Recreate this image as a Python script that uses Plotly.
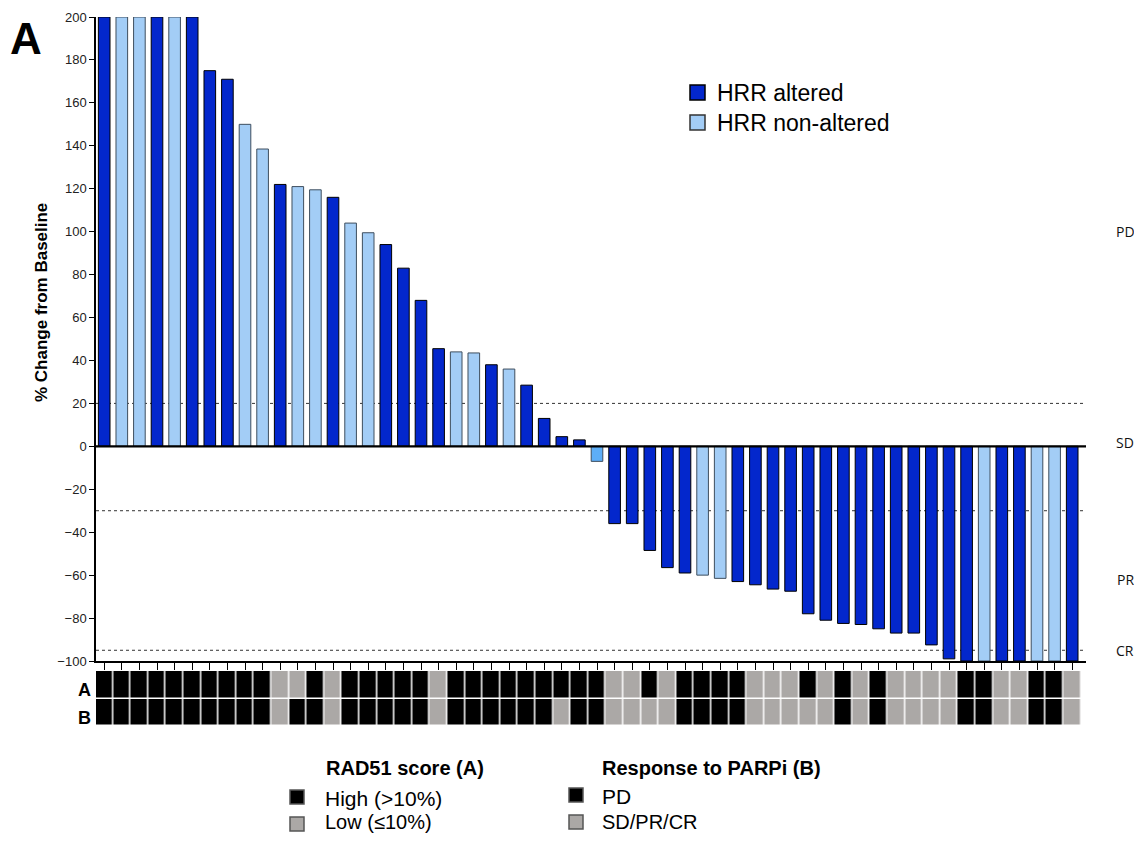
import plotly.graph_objects as go

# ---------------- data ----------------
pct_change = [200, 200, 200, 200, 200, 200, 175, 171, 150, 138.5,
              122, 121, 119.5, 116, 104, 99.5, 94, 83, 68, 45.5,
              44, 43.5, 38, 36, 28.5, 13, 4.5, 3, -7, -36,
              -36, -48.5, -56.5, -59, -60, -61.5, -63, -64.5, -66.5, -67.5,
              -78, -81, -82.5, -83, -85, -87, -87, -92.5, -99, -100,
              -100, -100, -100, -100, -100, -100]

hrr_status = ["altered", "non-altered", "non-altered", "altered", "non-altered",
              "altered", "altered", "altered", "non-altered", "non-altered",
              "altered", "non-altered", "non-altered", "altered", "non-altered",
              "non-altered", "altered", "altered", "altered", "altered",
              "non-altered", "non-altered", "altered", "non-altered", "altered",
              "altered", "altered", "altered", "non-altered", "altered",
              "altered", "altered", "altered", "altered", "non-altered",
              "non-altered", "altered", "altered", "altered", "altered",
              "altered", "altered", "altered", "altered", "altered",
              "altered", "altered", "altered", "altered", "altered",
              "non-altered", "altered", "altered", "non-altered", "non-altered",
              "altered"]

# 1 = High (>10%), 0 = Low (<=10%)
rad51_high = [1, 1, 1, 1, 1, 1, 1, 1, 1, 1,
              0, 0, 1, 0, 1, 1, 1, 1, 1, 0,
              1, 1, 1, 1, 1, 1, 1, 1, 1, 0,
              0, 1, 0, 1, 1, 1, 1, 0, 0, 0,
              1, 0, 1, 0, 1, 0, 0, 0, 0, 1,
              1, 0, 0, 1, 1, 0]
# 1 = PD, 0 = SD/PR/CR
parpi_pd = [1, 1, 1, 1, 1, 1, 1, 1, 1, 1,
            0, 1, 1, 0, 1, 1, 1, 1, 1, 0,
            1, 1, 1, 1, 1, 1, 0, 1, 1, 0,
            0, 0, 0, 1, 1, 1, 1, 0, 0, 0,
            0, 0, 1, 0, 1, 0, 0, 0, 0, 1,
            1, 0, 0, 1, 1, 0]

y_ticks = list(range(-100, 201, 20))
ref_lines = [20, -30, -95]
zone_labels = ["PD", "SD", "PR", "CR"]
zone_label_y = [100, 2, -62, -95]

# ---------------- styling ----------------
OFF = 8                      # default page margin around the plot div
W, H = 1142 - 2 * OFF, 843 - 2 * OFF
DARK = "#0327CC"
LIGHT = "#A3CDF6"
ODD_LIGHT = "#5DAEF7"
BLACK = "#000000"
GRAY = "#ABA8A6"
FONT = "Liberation Sans, Arial, sans-serif"


def px_x(p):
    return (p - OFF) / W


def px_y(p):
    return 1 - (p - OFF) / H


x_idx = list(range(len(pct_change)))

fig = go.Figure()

alt_x = [i for i in x_idx if hrr_status[i] == "altered"]
non_x = [i for i in x_idx if hrr_status[i] == "non-altered"]

fig.add_trace(go.Bar(
    x=alt_x, y=[pct_change[i] for i in alt_x], width=0.66,
    marker=dict(color=DARK, line=dict(color="#000000", width=1)),
    name="HRR altered", showlegend=False, xaxis="x", yaxis="y"))

non_colors = [ODD_LIGHT if (-20 < pct_change[i] < 0) else LIGHT for i in non_x]
fig.add_trace(go.Bar(
    x=non_x, y=[pct_change[i] for i in non_x], width=0.66,
    marker=dict(color=non_colors, line=dict(color="#3E4E5E", width=1)),
    name="HRR non-altered", showlegend=False, xaxis="x", yaxis="y"))

fig.add_trace(go.Heatmap(
    z=[rad51_high, parpi_pd], x=x_idx, y=[0, 1],
    colorscale=[[0, GRAY], [0.5, GRAY], [0.5, BLACK], [1, BLACK]],
    zmin=0, zmax=1, showscale=False, xgap=1.5, ygap=1.5,
    hoverinfo="skip", xaxis="x", yaxis="y2"))

x0_px, x1_px = 96, 1086
unit = 17.6
first_center = 104.2
xr = [(x0_px - first_center) / unit, (x1_px - first_center) / unit]

fig.update_layout(
    width=W, height=H,
    margin=dict(l=0, r=0, t=0, b=0, autoexpand=False),
    paper_bgcolor="white", plot_bgcolor="white",
    barmode="overlay",
    font=dict(family=FONT, color="#111111"),
    xaxis=dict(domain=[px_x(x0_px), px_x(x1_px)], range=xr, anchor="y",
               automargin=False,
               showgrid=False, zeroline=False, showline=True, linecolor="#000",
               linewidth=1.5, ticks="outside", ticklen=7, tickwidth=1,
               tickcolor="#000", tickvals=x_idx, showticklabels=False),
    yaxis=dict(domain=[px_y(661), px_y(17)], range=[-100, 200],
               automargin=False, ticklabeloverflow="allow",
               tickvals=y_ticks, ticks="outside", ticklen=5, tickwidth=1,
               tickcolor="#000", showline=True, linecolor="#000", linewidth=1.5,
               showgrid=False, zeroline=False,
               tickfont=dict(size=13, family=FONT, color="#222")),
    yaxis2=dict(domain=[px_y(726), px_y(671)], range=[1.5, -0.5],
                automargin=False,
                showticklabels=False, showgrid=False, zeroline=False,
                anchor="x"),
)

shapes = []
for v in ref_lines:
    shapes.append(dict(type="line", xref="x domain", yref="y", x0=0, x1=1,
                       y0=v, y1=v, line=dict(color="#333", width=1, dash="dot"),
                       layer="below"))
shapes.append(dict(type="line", xref="x domain", yref="y", x0=0, x1=1,
                   y0=0, y1=0, line=dict(color="#000", width=2.2), layer="above"))

annotations = []
# y-axis title
annotations.append(dict(text="<b>% Change from Baseline</b>", xref="paper", yref="paper",
                        x=px_x(41), y=px_y(303), textangle=-90, showarrow=False,
                        xanchor="center", yanchor="middle",
                        font=dict(size=17, family=FONT, color="#000")))
for lab, yv in zip(zone_labels, zone_label_y):
    annotations.append(dict(text=lab, xref="paper", yref="y", x=px_x(1125), y=yv,
                            showarrow=False, xanchor="center", yanchor="middle",
                            font=dict(size=14, family="Open Sans, sans-serif", color="#111")))

# panel letter
annotations.append(dict(text="<b>A</b>", xref="paper", yref="paper", x=px_x(8), y=px_y(39),
                        showarrow=False, xanchor="left", yanchor="middle",
                        font=dict(size=44, family=FONT, color="#000")))
# heat-map row labels
for lab, yc in (("A", 690), ("B", 718)):
    annotations.append(dict(text=f"<b>{lab}</b>", xref="paper", yref="paper", x=px_x(84), y=px_y(yc),
                            showarrow=False, xanchor="center", yanchor="middle",
                            font=dict(size=18, family=FONT, color="#000")))


def legend_item(sx, sy, size, fill, edge, text, tx, ty, fsize):
    shapes.append(dict(type="rect", xref="paper", yref="paper",
                       x0=px_x(sx), x1=px_x(sx + size), y0=px_y(sy + size), y1=px_y(sy),
                       fillcolor=fill, line=dict(color=edge, width=1.5)))
    annotations.append(dict(text=text, xref="paper", yref="paper",
                            x=px_x(tx), y=px_y(ty), showarrow=False,
                            xanchor="left", yanchor="middle",
                            font=dict(size=fsize, family=FONT, color="#000")))


# HRR legend
legend_item(690, 85, 15, DARK, "#000", "HRR altered", 715, 93, 23)
legend_item(690, 115, 15, LIGHT, "#333", "HRR non-altered", 715, 123, 23)

# bottom legends
annotations.append(dict(text="<b>RAD51 score (A)</b>", xref="paper", yref="paper",
                        x=px_x(324), y=px_y(768), showarrow=False, xanchor="left",
                        yanchor="middle", font=dict(size=20, family=FONT, color="#000")))
legend_item(290, 790, 14, BLACK, "#555", "High (>10%)", 323, 798, 21)
legend_item(290, 817, 14, GRAY, "#555", "Low (≤10%)", 323, 822, 20)

annotations.append(dict(text="<b>Response to PARPi (B)</b>", xref="paper", yref="paper",
                        x=px_x(600), y=px_y(768), showarrow=False, xanchor="left",
                        yanchor="middle", font=dict(size=20, family=FONT, color="#000")))
legend_item(569, 788, 14, BLACK, "#555", "PD", 600, 796, 21)
legend_item(569, 815, 14, GRAY, "#555", "SD/PR/CR", 600, 822, 20)

fig.update_layout(shapes=shapes, annotations=annotations)

fig.write_html("out.html")
